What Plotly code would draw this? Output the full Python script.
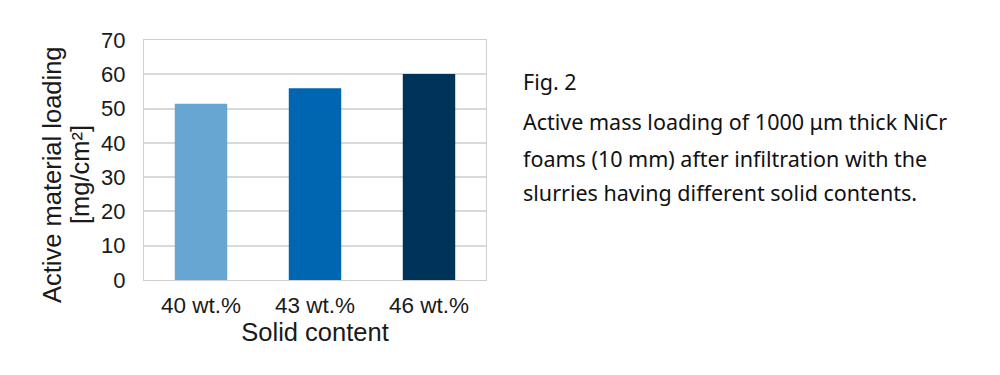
import plotly.graph_objects as go

categories = ["40 wt.%", "43 wt.%", "46 wt.%"]
loading = [51.4, 55.9, 60.1]
bar_colors = ["#67A5D2", "#0066B2", "#003359"]
y_ticks = [0, 10, 20, 30, 40, 50, 60, 70]
caption_lines = [
    "Fig. 2",
    "Active mass loading of 1000 \u03bcm thick NiCr",
    "foams (10 mm) after infiltration with the",
    "slurries having different solid contents.",
]

OFF = 8  # page body margin
W, H = 1000 - 2 * OFF, 375 - 2 * OFF
# target pixel positions in the 1000x375 window
L, R, T, B = 144, 486, 40, 280
l, r, t, b = L - OFF, R - OFF, T - OFF, B - OFF

fig = go.Figure()
fig.add_trace(go.Bar(
    x=categories, y=loading,
    marker=dict(color=bar_colors, line=dict(width=0)),
    width=0.46,
))

font_axis = "Liberation Sans, Arial, sans-serif"
fig.update_layout(
    width=W, height=H,
    margin=dict(l=l, r=W - r, t=t, b=H - b, pad=0),
    paper_bgcolor="white", plot_bgcolor="white",
    showlegend=False,
    font=dict(family=font_axis, color="#1a1a1a"),
    xaxis=dict(
        showline=True, linecolor="#d0d0d0", linewidth=1, mirror=True,
        showgrid=False, ticks="", ticklabelstandoff=5,
        tickfont=dict(size=22.5, color="#1a1a1a"),
        title=dict(text="Solid content", font=dict(size=25.5, color="#1a1a1a"), standoff=0),
    ),
    yaxis=dict(
        range=[0, 70], tickvals=y_ticks,
        showline=True, linecolor="#d0d0d0", linewidth=1, mirror=True,
        showgrid=True, gridcolor="#d9d9d9", gridwidth=1.5, zeroline=False,
        ticks="", ticklabelstandoff=13, tickfont=dict(size=22, color="#1a1a1a"),
    ),
)

def px(xw):
    return (xw - L) / (R - L)

def py(yw):
    return 1 - (yw - T) / (B - T)

# y-axis title (two lines)
fig.add_annotation(text="Active material loading", textangle=-90,
                   xref="paper", yref="paper", x=px(52), y=py(175),
                   xanchor="center", yanchor="middle", showarrow=False,
                   font=dict(size=25.5, family=font_axis, color="#1a1a1a"))
fig.add_annotation(text="[mg/cm\u00b2]", textangle=-90,
                   xref="paper", yref="paper", x=px(80), y=py(175),
                   xanchor="center", yanchor="middle", showarrow=False,
                   font=dict(size=25.5, family=font_axis, color="#1a1a1a"))

# caption
cap_y = [81, 121, 158, 192]
for txt, yy in zip(caption_lines, cap_y):
    fig.add_annotation(text=txt, xref="paper", yref="paper",
                       x=px(521), y=py(yy),
                       xanchor="left", yanchor="middle", showarrow=False,
                       font=dict(size=21.5, family="Noto Sans, sans-serif", color="#111111"))

fig.write_html("out.html")
